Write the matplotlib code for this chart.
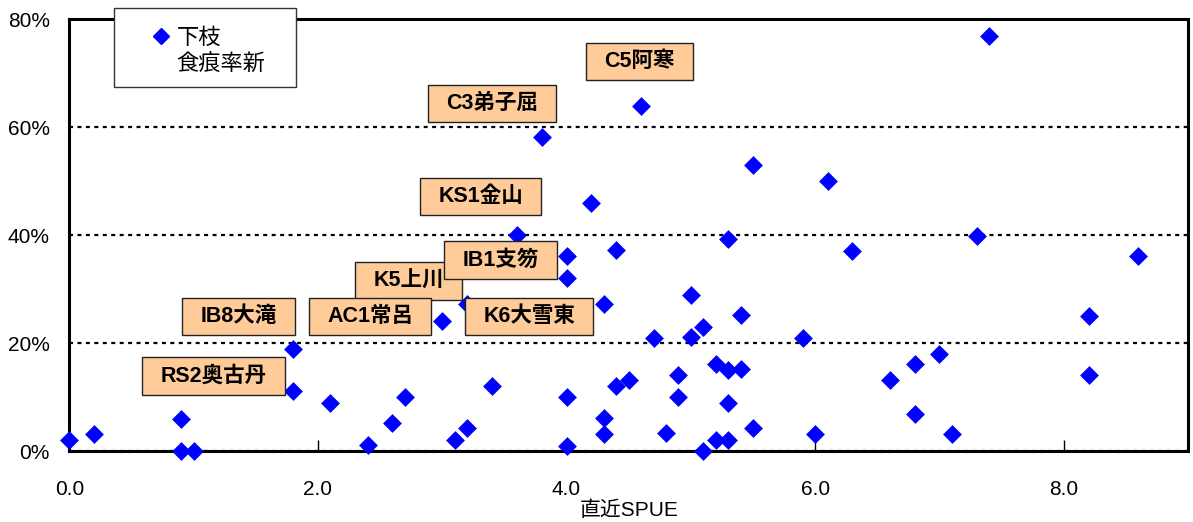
import matplotlib
matplotlib.use("Agg")
import matplotlib.pyplot as plt
from matplotlib.lines import Line2D
from matplotlib.patches import Rectangle
from matplotlib.ticker import PercentFormatter

plt.rcParams['font.family'] = ['Liberation Sans', 'Noto Sans CJK JP']

# 直近SPUE
spue = [0.0, 0.2, 0.9, 0.9, 1.0, 1.8, 1.8, 2.1, 2.4, 2.6,
        2.7, 3.0, 3.1, 3.2, 3.2, 3.4, 3.6, 3.8, 4.0, 4.0,
        4.0, 4.0, 4.2, 4.3, 4.3, 4.3, 4.4, 4.4, 4.5, 4.6,
        4.7, 4.8, 4.9, 4.9, 5.0, 5.0, 5.1, 5.1, 5.2, 5.2,
        5.3, 5.3, 5.3, 5.3, 5.4, 5.4, 5.5, 5.5, 5.9, 6.0,
        6.1, 6.3, 6.6, 6.8, 6.8, 7.0, 7.1, 7.3, 7.4, 8.2,
        8.2, 8.6]
# 下枝 食痕率新 (%)
rate = [2.0, 3.1, 5.9, 0.0, 0.0, 18.9, 11.1, 8.9, 1.1, 5.2,
        10.0, 24.1, 2.0, 27.2, 4.2, 12.0, 40.1, 58.1, 36.1, 32.0,
        10.1, 1.0, 46.0, 27.2, 6.1, 3.1, 37.2, 12.0, 13.1, 63.9,
        20.9, 3.3, 14.1, 10.1, 28.9, 21.1, 23.0, 0.0, 16.2, 2.0,
        15.0, 8.9, 2.0, 39.2, 25.2, 15.2, 53.0, 4.3, 21.0, 3.1,
        50.1, 37.1, 13.1, 16.2, 6.8, 17.9, 3.1, 39.8, 76.9, 25.1,
        14.1, 36.1]

site_names = ['C5阿寒', 'C3弟子屈', 'KS1金山', 'K5上川', 'IB1支笏',
              'AC1常呂', 'K6大雪東', 'IB8大滝', 'RS2奥古丹']
# label box centres (spue, %)
site_pos = [(4.59, 72.2), (3.40, 64.4), (3.31, 47.2), (2.73, 31.5), (3.47, 35.4),
            (2.42, 25.0), (3.70, 24.9), (1.36, 25.0), (1.16, 13.9)]

fig = plt.figure(figsize=(11.93, 5.22), dpi=100)
ax = fig.add_axes([0.0581, 0.136, 0.9377, 0.827])

ax.scatter(spue, rate, marker='D', s=92, color='#0000FF', linewidths=0,
           zorder=3, clip_on=False)

ax.set_xlim(0, 9)
ax.set_ylim(0, 80)
ax.set_xticks([0, 2, 4, 6, 8])
ax.set_xticklabels(['0.0', '2.0', '4.0', '6.0', '8.0'])
ax.set_yticks([0, 20, 40, 60, 80])
ax.yaxis.set_major_formatter(PercentFormatter(100, decimals=0))

ax.tick_params(axis='x', direction='in', length=8, width=1, pad=21,
               labelsize=15)
ax.tick_params(axis='y', length=0, pad=14, labelsize=15)
for sp in ax.spines.values():
    sp.set_linewidth(2.2)
    sp.set_color('black')

ax.grid(axis='y', color='black', linewidth=1.6, linestyle=(0, (1.8, 2.0)))
ax.set_axisbelow(True)
ax.set_xlabel('直近SPUE', fontsize=15, labelpad=1)

for i, (name, (px, py)) in enumerate(zip(site_names, site_pos)):
    ax.text(px, py, name, ha='center', va='center', fontsize=15.5,
            fontweight='bold', zorder=4 + i * 0.01,
            bbox=dict(boxstyle='square,pad=0.85', mutation_aspect=0.44,
                      facecolor='#FFCC99', edgecolor='#222222', linewidth=1))

# legend frame sticking out above the plot
frame = Rectangle((0.0956, 0.833), 0.1526, 0.1525, transform=fig.transFigure,
                  facecolor='white', edgecolor='#333333', linewidth=1,
                  zorder=5, clip_on=False)
ax.add_artist(frame)
handles = [Line2D([], [], marker='D', color='#0000FF', ls='none', ms=8),
           Line2D([], [], ls='none')]
leg = ax.legend(handles, ['下枝', '食痕率新'], loc='upper left',
                bbox_to_anchor=(0.1165, 0.968), bbox_transform=fig.transFigure,
                frameon=False, fontsize=16, handlelength=1.0,
                handletextpad=0.18, labelspacing=0.28, borderpad=0)
leg.set_zorder(6)

fig.savefig('out.png', dpi=100)
